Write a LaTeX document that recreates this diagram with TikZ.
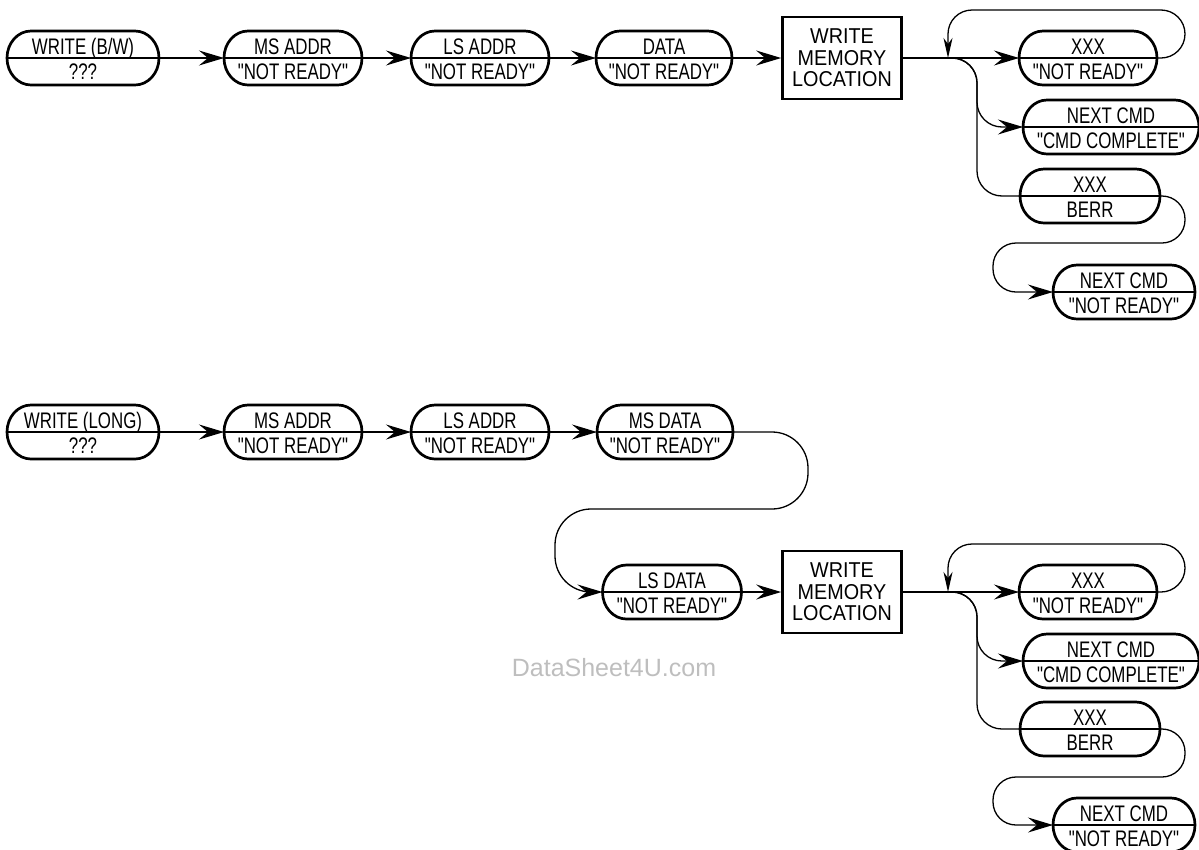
\documentclass[tikz,border=0pt]{standalone}
\usepackage{fontspec}
\setmainfont{Liberation Sans}
\newfontfamily\narrowfont[FakeStretch=0.75]{Liberation Sans}
\newfontfamily\boxfont[FakeStretch=0.92]{Liberation Sans}
\usetikzlibrary{arrows.meta}
\definecolor{wmgray}{RGB}{190,190,190}
\tikzset{
 stadbox/.style={minimum height=54pt, inner sep=0pt, outer sep=0pt},
 outline/.style={line width=2.7pt},
 conn/.style={line width=1.3pt},
 arr/.style={-{Stealth[length=25pt,width=15pt,inset=9pt]}},
 darr/.style={-{Stealth[length=20pt,width=9pt,inset=6pt]}},
 lbl/.style={font=\narrowfont\fontsize{22.5}{24}\selectfont, inner sep=0pt, anchor=base},
 boxnode/.style={draw, line width=2.7pt, minimum width=119pt, minimum height=82pt, align=center, inner sep=0pt, font=\boxfont\fontsize{21.5}{21.5}\selectfont},
}
\newcommand\stadnode[6]{%
 \node[stadbox, minimum width=#4pt] (#1) at (#2,#3) {};
 \draw[outline] ([xshift=24pt]#1.north west) -- ([xshift=-24pt]#1.north east)
   arc[start angle=90, end angle=-90, x radius=24pt, y radius=27pt]
   -- ([xshift=24pt]#1.south west)
   arc[start angle=270, end angle=90, x radius=24pt, y radius=27pt] -- cycle;
 \draw[conn] (#1.west) -- (#1.east);
 \node[lbl] (#1-t) at ([yshift=4pt]#1.center) {#5};
 \node[lbl] (#1-b) at ([yshift=-21pt]#1.center) {#6};
}
\begin{document}
\begin{tikzpicture}[x=1pt,y=1pt]
\useasboundingbox (0,0) rectangle (1199,-849);
% ---------- top diagram ----------
\stadnode{w1}{83}{-58}{152}{WRITE (B/W)}{???}
\stadnode{ms1}{293}{-58}{138}{MS ADDR}{"NOT READY"}
\stadnode{ls1}{480}{-58}{138}{LS ADDR}{"NOT READY"}
\stadnode{d1}{664}{-58}{136}{DATA}{"NOT READY"}
\node[boxnode] (box1) at (842,-58) {WRITE\\MEMORY\\LOCATION};
\stadnode{x1}{1088}{-58}{138}{XXX}{"NOT READY"}
\stadnode{nc1}{1111}{-127}{176}{NEXT CMD}{"CMD COMPLETE"}
\stadnode{be1}{1090}{-196}{140}{XXX}{BERR}
\stadnode{nr1}{1124}{-292}{142}{NEXT CMD}{"NOT READY"}
\draw[conn,arr] (w1.east) -- (ms1.west);
\draw[conn,arr] (ms1.east) -- (ls1.west);
\draw[conn,arr] (ls1.east) -- (d1.west);
\draw[conn,arr] (d1.east) -- (box1.west);
\draw[conn,arr] (box1.east) -- (x1.west);
\coordinate (j1) at (948,-58);
\coordinate (k1) at (952,-58);
\draw[conn,darr,rounded corners=24pt] (x1.east) -| (1185,-10) -| (j1);
\draw[conn,arr,rounded corners=25pt] (k1) -| (977,-127) -- (nc1.west);
\draw[conn,rounded corners=25pt] (k1) -| (977,-196) -- (be1.west);
\draw[conn,arr,rounded corners=23pt] (be1.east) -| (1185,-243) -| (993,-292) -- (nr1.west);
% ---------- bottom diagram ----------
\stadnode{w2}{83}{-432}{152}{WRITE (LONG)}{???}
\stadnode{ms2}{293}{-432}{138}{MS ADDR}{"NOT READY"}
\stadnode{ls2}{480}{-432}{138}{LS ADDR}{"NOT READY"}
\stadnode{md2}{665}{-432}{136}{MS DATA}{"NOT READY"}
\stadnode{ld2}{672}{-592}{139}{LS DATA}{"NOT READY"}
\node[boxnode] (box2) at (842,-592) {WRITE\\MEMORY\\LOCATION};
\stadnode{x2}{1088}{-592}{138}{XXX}{"NOT READY"}
\stadnode{nc2}{1111}{-661}{176}{NEXT CMD}{"CMD COMPLETE"}
\stadnode{be2}{1090}{-729}{140}{XXX}{BERR}
\stadnode{nr2}{1124}{-825}{142}{NEXT CMD}{"NOT READY"}
\draw[conn,arr] (w2.east) -- (ms2.west);
\draw[conn,arr] (ms2.east) -- (ls2.west);
\draw[conn,arr] (ls2.east) -- (md2.west);
\draw[conn,arr,rounded corners=36pt] (md2.east) -| (808,-509) -| (555,-592) -- (ld2.west);
\draw[conn,arr] (ld2.east) -- (box2.west);
\draw[conn,arr] (box2.east) -- (x2.west);
\coordinate (j2) at (948,-592);
\coordinate (k2) at (952,-592);
\draw[conn,darr,rounded corners=24pt] (x2.east) -| (1185,-544) -| (j2);
\draw[conn,arr,rounded corners=25pt] (k2) -| (977,-661) -- (nc2.west);
\draw[conn,rounded corners=25pt] (k2) -| (977,-729) -- (be2.west);
\draw[conn,arr,rounded corners=23pt] (be2.east) -| (1185,-777) -| (993,-825) -- (nr2.west);
% watermark
\node[font=\fontsize{25}{30}\selectfont, text=wmgray, anchor=base, inner sep=0pt] (wm) at (614,-676) {DataSheet4U.com};
\end{tikzpicture}
\end{document}
